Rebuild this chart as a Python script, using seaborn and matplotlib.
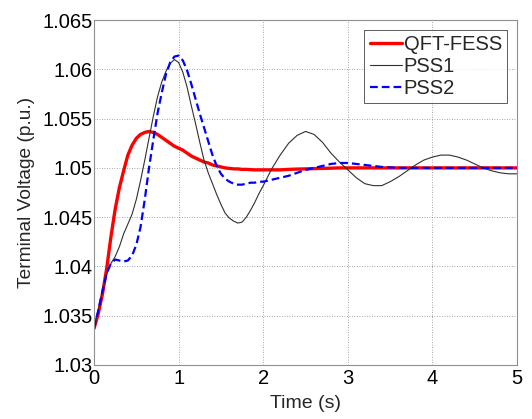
import numpy as np
import pandas as pd
import matplotlib
matplotlib.use("Agg")
import matplotlib.pyplot as plt
import seaborn as sns

# time grid (s)
time = [0.00, 0.05, 0.10, 0.15, 0.20, 0.25, 0.30, 0.35, 0.40, 0.45,
        0.50, 0.55, 0.60, 0.65, 0.70, 0.75, 0.80, 0.85, 0.90, 0.95,
        1.00, 1.05, 1.10, 1.15, 1.20, 1.25, 1.30, 1.35, 1.40, 1.45,
        1.50, 1.55, 1.60, 1.65, 1.70, 1.75, 1.80, 1.85, 1.90, 1.95,
        2.0, 2.1, 2.2, 2.3, 2.4, 2.5, 2.6, 2.7, 2.8, 2.9,
        3.0, 3.1, 3.2, 3.3, 3.4, 3.5, 3.6, 3.7, 3.8, 3.9,
        4.0, 4.1, 4.2, 4.3, 4.4, 4.5, 4.6, 4.7, 4.8, 4.9, 5.0]

qft_fess = [1.0337, 1.0352, 1.0372, 1.0398, 1.0430, 1.0458, 1.0480, 1.0497, 1.0513, 1.0523,
            1.0530, 1.0534, 1.0536, 1.0537, 1.0536, 1.0534, 1.0531, 1.0528, 1.0525, 1.0522,
            1.0520, 1.0518, 1.0515, 1.0512, 1.0510, 1.0508, 1.0506, 1.0505, 1.0503, 1.0502,
            1.0501, 1.0500, 1.04995, 1.0499, 1.0499, 1.04985, 1.04985, 1.04982, 1.0498, 1.0498,
            1.0498, 1.0498, 1.0498, 1.04985, 1.04988, 1.0499, 1.04993, 1.04995, 1.04997, 1.0500,
            1.0500, 1.0500, 1.0500, 1.0500, 1.0500, 1.0500, 1.0500, 1.0500, 1.0500, 1.0500,
            1.0500, 1.0500, 1.0500, 1.0500, 1.0500, 1.0500, 1.0500, 1.0500, 1.0500, 1.0500, 1.0500]

pss1 = [1.0337, 1.0355, 1.0375, 1.0392, 1.0403, 1.0410, 1.0420, 1.0433, 1.0443, 1.0453,
        1.0468, 1.0487, 1.0508, 1.0530, 1.0552, 1.0572, 1.0587, 1.0598, 1.0606, 1.0610,
        1.0607, 1.0597, 1.0582, 1.0563, 1.0545, 1.0526, 1.0508, 1.0495, 1.0484, 1.0473,
        1.0463, 1.0454, 1.0449, 1.0446, 1.0444, 1.0445, 1.0450, 1.0457, 1.0465, 1.0474,
        1.0482, 1.0499, 1.0513, 1.0525, 1.0533, 1.0537, 1.0534, 1.0526, 1.0515, 1.0506,
        1.0498, 1.0490, 1.0484, 1.0482, 1.0482, 1.0486, 1.0491, 1.0497, 1.0503, 1.0508,
        1.0511, 1.0513, 1.0513, 1.0511, 1.0508, 1.0504, 1.0500, 1.0497, 1.0495, 1.0494, 1.0494]

pss2 = [1.0337, 1.0355, 1.0375, 1.0393, 1.0403, 1.0407, 1.0406, 1.0405, 1.0406, 1.0411,
        1.0422, 1.0440, 1.0468, 1.0500, 1.0528, 1.0555, 1.0576, 1.0595, 1.0607, 1.0613,
        1.0614, 1.0609, 1.0599, 1.0585, 1.0570, 1.0555, 1.0541, 1.0527, 1.0513, 1.0502,
        1.0494, 1.0489, 1.0486, 1.0484, 1.0483, 1.0483, 1.0484, 1.0485, 1.0485, 1.0486,
        1.0486, 1.0488, 1.0490, 1.0492, 1.0495, 1.0498, 1.0500, 1.0502, 1.0504, 1.0505,
        1.0505, 1.0504, 1.0503, 1.0502, 1.0501, 1.05005, 1.0500, 1.0500, 1.0500, 1.0500,
        1.0500, 1.0500, 1.0500, 1.0500, 1.0500, 1.0500, 1.0500, 1.0500, 1.0500, 1.0500, 1.0500]

x_ticks = [0, 1, 2, 3, 4, 5]
y_ticks = [1.03, 1.035, 1.04, 1.045, 1.05, 1.055, 1.06, 1.065]
y_tick_labels = ['1.03', '1.035', '1.04', '1.045', '1.05', '1.055', '1.06', '1.065']

sns.set_theme(style="white")
plt.rcParams['font.family'] = ['Liberation Sans', 'DejaVu Sans']

fig = plt.figure(figsize=(5.32, 4.19), dpi=100)
ax = fig.add_axes([0.1767, 0.129, 0.7953, 0.823])

sns.lineplot(x=time, y=qft_fess, ax=ax, color='#ff0000', linewidth=2.4, label='QFT-FESS')
sns.lineplot(x=time, y=pss1, ax=ax, color='#303030', linewidth=0.8, label='PSS1')
sns.lineplot(x=time, y=pss2, ax=ax, color='#0000ff', linewidth=1.6, label='PSS2')
ax.lines[2].set_dashes([3.5, 1.8])

ax.set_xlim(0, 5)
ax.set_ylim(1.03, 1.065)
ax.set_xticks(x_ticks)
ax.set_xticklabels([str(v) for v in x_ticks])
ax.set_yticks(y_ticks)
ax.set_yticklabels(y_tick_labels)
ax.tick_params(direction='in', length=0, labelsize=14.5, colors='black', pad=1)
ax.tick_params(axis='x', pad=3)
ax.grid(True, linestyle=(0, (1, 2)), color='#888888', linewidth=0.6)
for s in ax.spines.values():
    s.set_color('#909090')
    s.set_linewidth(0.8)

ax.set_xlabel('Time (s)', fontsize=14, labelpad=5)
ax.set_ylabel('Terminal Voltage (p.u.)', fontsize=13.8, labelpad=5)

leg = ax.legend(loc='upper right', fontsize=14.5, frameon=True, fancybox=False,
                handlelength=1.6, handletextpad=0.1, borderpad=0.25, labelspacing=0.15,
                borderaxespad=0.5)
leg.get_frame().set_edgecolor('#333333')
leg.get_frame().set_linewidth(0.7)

fig.savefig('out.png', dpi=100)
